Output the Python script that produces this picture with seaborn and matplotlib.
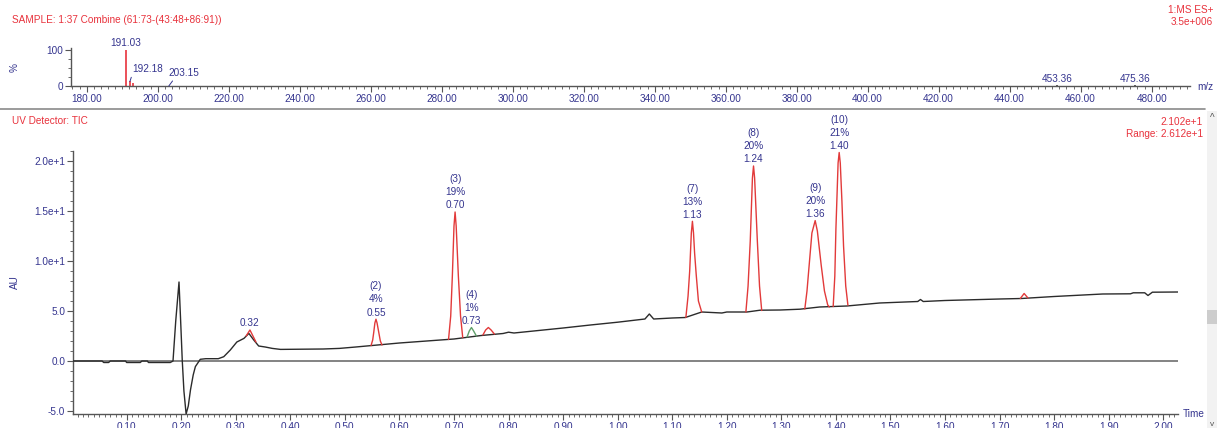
import numpy as np
import pandas as pd
import matplotlib
matplotlib.use("Agg")
import matplotlib.pyplot as plt
import seaborn as sns
from matplotlib.ticker import MultipleLocator, FixedLocator
from matplotlib.patches import Rectangle
from matplotlib.lines import Line2D

# ---------------- data ----------------
# MS spectrum (top)
ms_mz = [191.03, 192.18, 193.10, 203.15, 453.36, 475.36]
ms_int = [100, 14, 8, 1, 2, 2]
ms_labels = ["191.03", "192.18", "", "203.15", "453.36", "475.36"]
ms_xticks = [180, 200, 220, 240, 260, 280, 300, 320, 340, 360, 380, 400, 420, 440, 460, 480]

# UV chromatogram trace (black)
trace_t = [0.000, 0.055, 0.058, 0.067, 0.070, 0.098, 0.100, 0.125, 0.128, 0.138, 0.140, 0.180,
           0.185, 0.190, 0.196, 0.199, 0.202, 0.205, 0.209, 0.213, 0.217, 0.222, 0.226, 0.235,
           0.245, 0.268, 0.278, 0.290, 0.302, 0.315, 0.324, 0.333, 0.342, 0.354, 0.367, 0.382,
           0.460, 0.490, 0.520, 0.550, 0.600, 0.700, 0.750, 0.790, 0.800, 0.810, 0.900, 0.950,
           1.000, 1.050, 1.058, 1.066, 1.100, 1.124, 1.154, 1.191, 1.200, 1.237, 1.261, 1.298,
           1.334, 1.370, 1.420, 1.480, 1.550, 1.555, 1.560, 1.600, 1.700, 1.740, 1.800, 1.889,
           1.940, 1.945, 1.966, 1.972, 1.980, 2.027]
trace_au = [0.00, 0.00, -0.15, -0.15, 0.00, 0.00, -0.15, -0.15, 0.00, 0.00, -0.15, -0.15,
            0.00, 4.00, 7.90, 4.00, 0.00, -3.00, -5.30, -4.50, -2.90, -1.40, -0.56, 0.17,
            0.23, 0.23, 0.43, 1.10, 1.90, 2.26, 2.76, 2.10, 1.50, 1.40, 1.26, 1.16,
            1.20, 1.26, 1.40, 1.55, 1.80, 2.20, 2.55, 2.75, 2.88, 2.80, 3.30, 3.60,
            3.88, 4.20, 4.70, 4.20, 4.30, 4.35, 4.90, 4.80, 4.90, 4.90, 5.08, 5.10,
            5.18, 5.40, 5.50, 5.80, 5.95, 6.15, 5.95, 6.05, 6.20, 6.25, 6.45, 6.70,
            6.72, 6.82, 6.82, 6.55, 6.88, 6.90]

# integrated peaks (red / green)
p1_t = [0.319, 0.326, 0.337]
p1_au = [2.5, 3.1, 1.9]
p2_t = [0.548, 0.551, 0.553, 0.555, 0.557, 0.559, 0.562, 0.565, 0.568]
p2_au = [1.55, 2.1, 2.9, 3.8, 4.18, 3.8, 2.9, 2.0, 1.6]
p3_t = [0.690, 0.694, 0.697, 0.700, 0.702, 0.704, 0.708, 0.712, 0.716]
p3_au = [2.15, 4.5, 8.5, 13.5, 14.9, 13.5, 8.5, 4.5, 2.35]
p4_t = [0.724, 0.728, 0.732, 0.736, 0.741]
p4_au = [2.4, 3.0, 3.35, 3.0, 2.5]
p5_t = [0.753, 0.758, 0.763, 0.768, 0.774]
p5_au = [2.6, 3.1, 3.35, 3.1, 2.7]
p7_t = [1.125, 1.129, 1.132, 1.135, 1.137, 1.139, 1.141, 1.144, 1.148, 1.154]
p7_au = [4.35, 6.5, 9.0, 12.8, 13.97, 12.8, 10.8, 8.6, 6.0, 4.9]
p8_t = [1.235, 1.239, 1.243, 1.247, 1.249, 1.251, 1.256, 1.260, 1.264]
p8_au = [4.9, 7.5, 12.0, 18.3, 19.5, 18.3, 12.0, 7.5, 5.05]
p9_t = [1.343, 1.347, 1.351, 1.356, 1.362, 1.366, 1.373, 1.379, 1.385, 1.388]
p9_au = [5.2, 7.0, 9.6, 12.8, 14.04, 13.0, 9.6, 7.0, 5.6, 5.4]
p10_t = [1.395, 1.398, 1.400, 1.404, 1.406, 1.408, 1.411, 1.414, 1.418, 1.422]
p10_au = [5.45, 8.5, 13.2, 19.8, 20.85, 19.8, 16.0, 11.5, 7.5, 5.58]
p11_t = [1.738, 1.745, 1.752]
p11_au = [6.25, 6.75, 6.3]

peak_t = [p1_t, p2_t, p3_t, p4_t, p5_t, p7_t, p8_t, p9_t, p10_t, p11_t]
peak_au = [p1_au, p2_au, p3_au, p4_au, p5_au, p7_au, p8_au, p9_au, p10_au, p11_au]
peak_id = ["", "(2)", "(3)", "(4)", "", "(7)", "(8)", "(9)", "(10)", ""]
peak_pct = ["", "4%", "19%", "1%", "", "13%", "20%", "20%", "21%", ""]
peak_rt = ["0.32", "0.55", "0.70", "0.73", "", "1.13", "1.24", "1.36", "1.40", ""]

uv_yticks = [-5, 0, 5, 10, 15, 20]
uv_yticklabels = ["-5.0", "0.0", "5.0", "1.0e+1", "1.5e+1", "2.0e+1"]
uv_xticks = [0.1, 0.2, 0.3, 0.4, 0.5, 0.6, 0.7, 0.8, 0.9, 1.0, 1.1, 1.2, 1.3, 1.4, 1.5,
             1.6, 1.7, 1.8, 1.9, 2.0]

# ---------------- style ----------------
sns.set_theme(style="white")
plt.rcParams['font.family'] = ['Liberation Sans', 'DejaVu Sans']
NAVY = '#34348e'
RED = '#e8323c'
PEAKRED = '#e23a3a'
GREEN = '#5f9f6a'
AXC = '#555555'
FS = 7.2

W, H = 1217, 428
fig = plt.figure(figsize=(W / 100, H / 100), dpi=100)


def rect(x0, y0, x1, y1):
    return [x0 / W, 1 - y1 / H, (x1 - x0) / W, (y1 - y0) / H]


def ftext(x, y, s, **kw):
    fig.text(x / W, 1 - y / H, s, **kw)


# ---------------- top: MS spectrum ----------------
ax1 = fig.add_axes(rect(71, 48, 1190, 86))
ax1.set_facecolor('none')
ax1.set_xlim(175.6, 490.8)
ax1.set_ylim(0, 105)
ms_df = pd.DataFrame({"mz": ms_mz, "int": ms_int})
ms_col = [RED, RED, RED, '#444444', '#444444', '#444444']
ax1.vlines(ms_df["mz"], 0, ms_df["int"], colors=ms_col, lw=1.2)
for s in ['top', 'right']:
    ax1.spines[s].set_visible(False)
for s in ['left', 'bottom']:
    ax1.spines[s].set_color(AXC)
    ax1.spines[s].set_linewidth(1.0)
ax1.xaxis.set_major_locator(FixedLocator(ms_xticks))
ax1.set_xticklabels([f"{v:.2f}" for v in ms_xticks])
ax1.xaxis.set_minor_locator(MultipleLocator(2))
ax1.set_yticks([0, 100])
ax1.set_yticklabels(["0", "100"])
ax1.yaxis.set_minor_locator(FixedLocator([25, 50, 75]))
ax1.tick_params(axis='both', which='major', direction='out', length=4, width=0.8,
                color=AXC, labelcolor=NAVY, labelsize=FS, pad=1.5,
                bottom=True, left=True)
ax1.tick_params(axis='both', which='minor', direction='out', length=2, width=0.6,
                color=AXC, bottom=True, left=True)

# spectrum labels
ax1.annotate(ms_labels[0], xy=(ms_mz[0], ms_int[0]), xytext=(0, 1.5), textcoords='offset points',
             ha='center', va='bottom', color=NAVY, fontsize=FS, annotation_clip=False)
ax1.annotate(ms_labels[1], xy=(ms_mz[1], ms_int[1] - 2), xytext=(1.8, 5.5), textcoords='offset points',
             ha='left', va='bottom', color=NAVY, fontsize=FS, annotation_clip=False,
             arrowprops=dict(arrowstyle='-', color=NAVY, lw=0.7, shrinkA=0, shrinkB=0,
                             relpos=(0.0, 0.0)))
ax1.annotate(ms_labels[3], xy=(ms_mz[3], 0), xytext=(0, 6), textcoords='offset points',
             ha='left', va='bottom', color=NAVY, fontsize=FS, annotation_clip=False,
             arrowprops=dict(arrowstyle='-', color=NAVY, lw=0.7, shrinkA=0, shrinkB=0,
                             relpos=(0.2, 0.0)))
for i in (4, 5):
    ax1.annotate(ms_labels[i], xy=(ms_mz[i], ms_int[i]), xytext=(0, 1), textcoords='offset points',
                 ha='center', va='bottom', color=NAVY, fontsize=FS, annotation_clip=False)

# ---------------- bottom: UV chromatogram ----------------
ax2 = fig.add_axes(rect(73, 115, 1178, 414))
ax2.set_facecolor('none')
ax2.set_xlim(0.0017, 2.027)
ax2.set_ylim(-5.3, 24.6)
ax2.axhline(0, color='#6e6e6e', lw=1.2, zorder=1)

tr = pd.DataFrame({"t": trace_t, "au": trace_au})
sns.lineplot(data=tr, x="t", y="au", ax=ax2, color='#2b2b2b', lw=1.0,
             estimator=None, sort=False, zorder=3)

for k, (tt, aa) in enumerate(zip(peak_t, peak_au)):
    df = pd.DataFrame({"t": tt, "au": aa})
    col = GREEN if peak_id[k] == "(4)" else PEAKRED
    sns.lineplot(data=df, x="t", y="au", ax=ax2, color=col, lw=1.0,
                 estimator=None, sort=False, zorder=4)
    lines = [s for s in (peak_id[k], peak_pct[k], peak_rt[k]) if s]
    if lines:
        j = int(np.argmax(aa))
        ax2.annotate("\n".join(lines), xy=(tt[j], aa[j]), xytext=(0, 1.2),
                     textcoords='offset points', ha='center', va='bottom',
                     color=NAVY, fontsize=FS, linespacing=1.38,
                     multialignment='center', annotation_clip=False, zorder=5)

ax2.set_xlabel("")
ax2.set_ylabel("")
for s in ['top', 'right']:
    ax2.spines[s].set_visible(False)
for s in ['left', 'bottom']:
    ax2.spines[s].set_color(AXC)
    ax2.spines[s].set_linewidth(1.0)
ax2.spines['left'].set_bounds(-5.3, 21.0)
ax2.xaxis.set_major_locator(FixedLocator(uv_xticks))
ax2.set_xticklabels([f"{v:.2f}" for v in uv_xticks])
ax2.xaxis.set_minor_locator(MultipleLocator(0.01))
ax2.yaxis.set_major_locator(FixedLocator(uv_yticks))
ax2.set_yticklabels(uv_yticklabels)
ax2.yaxis.set_minor_locator(FixedLocator([v for v in range(-5, 22) if v % 5 != 0]))
ax2.tick_params(axis='both', which='major', direction='out', length=4, width=0.8,
                color=AXC, labelcolor=NAVY, labelsize=FS, pad=1.5,
                bottom=True, left=True)
ax2.tick_params(axis='both', which='minor', direction='out', length=2, width=0.6,
                color=AXC, bottom=True, left=True)

# ---------------- frame texts ----------------
ftext(12, 20, "SAMPLE: 1:37 Combine (61:73-(43:48+86:91))", color=RED, fontsize=FS,
      ha='left', va='center')
ftext(1213, 10, "1:MS ES+", color=RED, fontsize=FS, ha='right', va='center')
ftext(1213, 22, "3.5e+006", color=RED, fontsize=FS, ha='right', va='center')
ftext(15, 68, "%", color=NAVY, fontsize=FS, ha='center', va='center', rotation=90)
ftext(1197, 87, "m/z", color=NAVY, fontsize=FS, ha='left', va='center')
fig.add_artist(Line2D([0, 1205 / W], [1 - 109 / H, 1 - 109 / H], color='#8a8a8a', lw=1.2,
                      transform=fig.transFigure))
ftext(12, 121, "UV Detector: TIC", color=RED, fontsize=FS, ha='left', va='center')
ftext(1203, 122, "2.102e+1", color=RED, fontsize=FS, ha='right', va='center')
ftext(1203, 134, "Range: 2.612e+1", color=RED, fontsize=FS, ha='right', va='center')
ftext(15, 282, "AU", color=NAVY, fontsize=FS, ha='center', va='center', rotation=90)
ftext(1183, 414, "Time", color=NAVY, fontsize=FS, ha='left', va='center')

# scrollbar remnants
fig.add_artist(Rectangle((1207 / W, 0), 10 / W, 1 - 111 / H, transform=fig.transFigure,
                         facecolor='#f2f2f2', edgecolor='none', zorder=0))
fig.add_artist(Rectangle((1207 / W, 1 - 324 / H), 10 / W, 14 / H, transform=fig.transFigure,
                         facecolor='#cdcdcd', edgecolor='none', zorder=1))
ftext(1212, 118, "^", color='#555555', fontsize=7, ha='center', va='center')
ftext(1212, 424, "v", color='#555555', fontsize=6, ha='center', va='center')

fig.savefig("out.png", dpi=100)
